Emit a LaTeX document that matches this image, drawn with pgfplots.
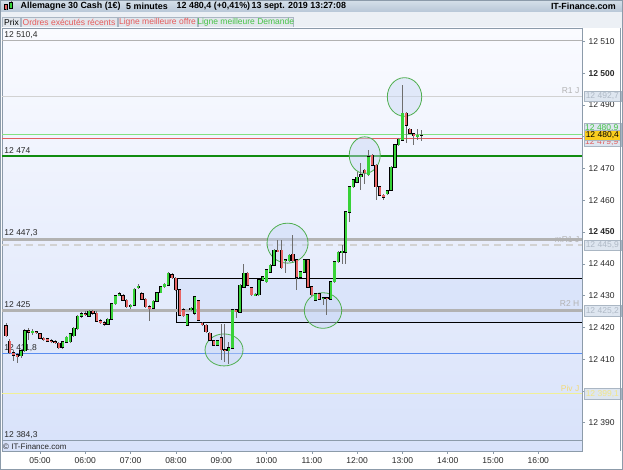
\documentclass[border=0pt]{standalone}
\usepackage{fontspec}
\setmainfont{Liberation Sans}
\usepackage{pgfplots}
\pgfplotsset{compat=1.18}
\usepackage{pgfplotstable}

\definecolor{framecol}{RGB}{140,155,170}
\definecolor{hdtop}{RGB}{214,224,234}
\definecolor{hdbot}{RGB}{184,199,215}
\definecolor{rowbg}{RGB}{236,240,245}
\definecolor{boxbg}{RGB}{226,231,237}
\definecolor{boxline}{RGB}{170,182,195}
\definecolor{bgtop}{RGB}{250,251,255}
\definecolor{bgbot}{RGB}{216,226,250}
\definecolor{zonefill}{RGB}{200,215,248}
\definecolor{upcol}{RGB}{55,210,55}
\definecolor{dncol}{RGB}{232,100,100}
\definecolor{wickcol}{RGB}{110,110,110}
\definecolor{pivgray}{RGB}{178,178,178}
\definecolor{lightline}{RGB}{210,210,210}
\definecolor{bidgreen}{RGB}{130,225,130}
\definecolor{askred}{RGB}{225,95,95}
\definecolor{darkgreen}{RGB}{16,140,16}
\definecolor{bluelevel}{RGB}{90,142,240}
\definecolor{yellowlevel}{RGB}{240,240,150}
\definecolor{ellgreen}{RGB}{80,175,80}
\definecolor{ellfill}{RGB}{200,215,245}
\definecolor{labelcol}{RGB}{40,40,40}
\definecolor{rtext}{RGB}{175,185,198}
\definecolor{rbox}{RGB}{222,230,240}
\definecolor{gold}{RGB}{250,205,30}
\definecolor{legred}{RGB}{230,90,90}
\definecolor{leggreen}{RGB}{70,195,70}

\newcommand\fs{\fontsize{8.5}{10}\selectfont}

% i = number of the 5-minute candle from 04:15
\pgfplotstableread{
i o h l c
0 12420.5 12421.5 12417.0 12417.3
1 12415.7 12416.2 12411.5 12412.0
2 12412.0 12412.8 12409.5 12411.3
3 12411.3 12412.0 12408.8 12411.0
4 12411.1 12413.0 12410.5 12412.7
5 12412.7 12419.5 12412.3 12419.0
6 12419.0 12419.8 12416.0 12418.5
7 12418.5 12419.5 12417.5 12418.8
8 12418.6 12419.0 12417.8 12418.3
9 12417.9 12418.3 12416.3 12416.6
10 12416.6 12417.0 12415.8 12416.3
11 12416.4 12416.8 12415.3 12415.7
12 12415.7 12416.2 12415.0 12415.5
13 12415.5 12416.0 12414.8 12415.2
14 12415.0 12415.5 12413.2 12413.6
15 12413.8 12415.8 12413.3 12415.5
16 12415.4 12417.2 12415.0 12416.9
17 12415.5 12418.3 12415.0 12418.0
18 12417.3 12420.0 12417.0 12419.7
19 12419.6 12423.8 12419.3 12423.5
20 12423.5 12424.8 12422.8 12424.2
21 12424.2 12425.0 12423.5 12424.0
22 12423.5 12425.5 12423.2 12425.0
23 12425.0 12425.5 12424.0 12424.5
24 12424.5 12425.0 12421.8 12422.0
25 12422.0 12422.5 12421.0 12421.5
26 12421.5 12422.0 12420.5 12421.0
27 12421.0 12422.8 12420.8 12422.5
28 12422.5 12427.7 12422.3 12427.4
29 12427.4 12430.2 12427.0 12429.9
30 12430.0 12431.0 12429.8 12430.5
31 12430.0 12430.5 12428.2 12428.5
32 12428.5 12428.8 12426.2 12426.5
33 12426.5 12427.5 12425.8 12427.0
34 12427.0 12432.5 12426.8 12432.0
35 12432.5 12433.5 12432.0 12433.0
36 12430.5 12431.0 12428.5 12428.9
37 12428.9 12429.2 12426.2 12426.5
38 12426.5 12427.0 12422.0 12426.0
39 12426.0 12428.5 12425.8 12428.2
40 12428.2 12431.2 12428.0 12430.9
41 12430.9 12433.0 12430.7 12432.8
42 12432.8 12434.0 12432.5 12433.5
43 12433.3 12437.3 12433.0 12437.0
44 12436.6 12437.0 12435.3 12435.6
45 12435.4 12435.8 12431.5 12431.8
46 12431.8 12432.2 12423.6 12423.9
47 12425.5 12426.0 12423.4 12423.7
48 12420.7 12424.2 12420.4 12423.9
49 12425.5 12426.5 12425.0 12426.0
50 12424.4 12430.0 12424.0 12429.7
51 12428.3 12428.6 12422.0 12422.3
52 12421.3 12421.6 12420.5 12420.8
53 12420.7 12421.0 12418.3 12418.6
54 12418.2 12418.5 12415.7 12416.0
55 12415.7 12416.0 12414.0 12414.3
56 12414.3 12416.0 12414.0 12415.7
57 12416.7 12421.0 12409.7 12412.9
58 12412.9 12421.2 12409.0 12412.7
59 12412.7 12415.3 12408.5 12413.5
60 12413.5 12425.8 12413.2 12425.5
61 12425.5 12425.8 12423.0 12425.0
62 12424.8 12433.6 12424.5 12433.3
63 12432.7 12440.0 12432.4 12437.0
64 12437.0 12437.3 12433.0 12433.3
65 12432.4 12432.7 12429.9 12430.2
66 12430.2 12430.8 12429.8 12430.4
67 12430.2 12435.2 12430.0 12434.9
68 12434.9 12436.3 12434.6 12436.0
69 12434.3 12438.4 12434.0 12438.1
70 12437.4 12439.9 12437.1 12439.6
71 12439.6 12444.6 12439.3 12444.3
72 12444.3 12447.5 12443.8 12444.0
73 12444.3 12447.5 12438.4 12438.7
74 12441.0 12441.5 12437.0 12441.3
75 12441.0 12443.0 12440.7 12442.7
76 12443.0 12449.0 12440.7 12441.0
77 12441.2 12441.5 12431.8 12435.8
78 12435.8 12437.8 12435.5 12437.5
79 12437.4 12441.5 12437.1 12441.2
80 12441.2 12441.5 12432.4 12432.7
81 12432.7 12433.0 12429.9 12430.2
82 12428.6 12430.8 12428.3 12430.5
83 12430.5 12430.8 12428.6 12428.9
84 12429.0 12429.5 12427.0 12429.3
85 12429.3 12429.6 12423.9 12429.0
86 12428.9 12434.6 12428.6 12434.3
87 12434.3 12440.9 12434.0 12440.6
88 12440.6 12444.0 12440.3 12443.7
89 12443.7 12446.0 12440.0 12444.0
90 12443.7 12456.6 12440.0 12456.3
91 12456.3 12464.5 12453.0 12464.2
92 12464.2 12466.7 12463.9 12466.4
93 12465.7 12469.0 12465.4 12467.3
94 12467.5 12471.7 12463.2 12468.0
95 12469.5 12469.8 12465.0 12468.6
96 12468.0 12475.8 12467.7 12473.6
97 12474.2 12474.5 12470.8 12471.1
98 12471.0 12471.3 12460.0 12464.2
99 12464.2 12464.5 12461.3 12461.6
100 12461.5 12462.0 12460.0 12461.0
101 12462.0 12463.3 12461.7 12463.0
102 12463.2 12470.7 12462.9 12470.4
103 12470.4 12477.7 12470.1 12477.4
104 12477.4 12479.5 12477.1 12479.2
105 12478.9 12496.2 12478.6 12487.4
106 12487.4 12487.7 12478.0 12483.6
107 12482.4 12482.7 12480.8 12481.1
108 12481.0 12481.3 12477.4 12480.3
109 12480.3 12482.5 12479.0 12480.4
110 12480.4 12482.0 12478.5 12480.4
}\candles

\def\xa{4.161}
\def\xb{16.964}

\begin{document}
\begin{tikzpicture}
\path[use as bounding box] (0pt,0pt) rectangle (623pt,470pt);
\fill[white] (0pt,0pt) rectangle (623pt,470pt);

% header bar
\shade[top color=hdtop, bottom color=hdbot] (0pt,458pt) rectangle (623pt,470pt);
\draw[framecol] (0pt,458pt) -- (623pt,458pt);
\fill[dncol, draw=black, line width=0.4pt] (4pt,461pt) rectangle (7.5pt,466pt);
\draw[wickcol] (5.75pt,460pt) -- (5.75pt,461pt);
\fill[upcol, draw=black, line width=0.4pt] (9pt,461.5pt) rectangle (12.5pt,468pt);
\draw[wickcol] (10.75pt,468pt) -- (10.75pt,469.5pt);
\node[anchor=west, inner sep=0pt, font=\bfseries\fontsize{8.9}{10}\selectfont] at (20.5pt,464pt) {Allemagne 30 Cash (1€)};
\node[anchor=west, inner sep=0pt, font=\bfseries\fontsize{8.9}{10}\selectfont] at (126pt,464pt) {5 minutes};
\node[anchor=west, inner sep=0pt, font=\bfseries\fontsize{8.9}{10}\selectfont] at (176.5pt,464pt) {12 480,4 (+0,41\%)};
\node[anchor=west, inner sep=0pt, font=\bfseries\fontsize{8.9}{10}\selectfont] at (251.5pt,464pt) {13 sept. 2019 13:27:08};
\node[anchor=east, inner sep=0pt, font=\bfseries\fontsize{8.9}{10}\selectfont] at (616pt,464pt) {IT-Finance.com};

% legend row
\fill[rowbg] (0pt,442pt) rectangle (623pt,458pt);
\filldraw[fill=boxbg, draw=boxline, line width=0.5pt] (2.5pt,442pt) rectangle (20.5pt,453pt);
\filldraw[fill=boxbg, draw=boxline, line width=0.5pt] (21pt,442pt) rectangle (117pt,453pt);
\filldraw[fill=boxbg, draw=boxline, line width=0.5pt] (118pt,442pt) rectangle (197pt,453pt);
\filldraw[fill=boxbg, draw=boxline, line width=0.5pt] (198.5pt,442pt) rectangle (293pt,453pt);
\node[inner sep=0pt, font=\fs] at (11.5pt,447.5pt) {Prix};
\node[inner sep=0pt, font=\fs, text=legred] at (69pt,447.5pt) {Ordres exécutés récents};
\node[inner sep=0pt, font=\fs, text=legred] at (157.5pt,447.5pt) {Ligne meilleure offre};
\node[inner sep=0pt, font=\fs, text=leggreen] at (245.75pt,447.5pt) {Ligne meilleure Demande};

\begin{axis}[
  at={(2pt,19pt)}, anchor=south west,
  scale only axis, width=580pt, height=423pt,
  xmin=\xa, xmax=\xb, ymin=12381.1, ymax=12514.2,
  scaled ticks=false,
  axis line style={draw=framecol},
  axis background/.style={shade, top color=bgtop, bottom color=bgbot},
  xtick={5,6,7,8,9,10,11,12,13,14,15,16},
  xticklabels={05:00,06:00,07:00,08:00,09:00,10:00,11:00,12:00,13:00,14:00,15:00,16:00},
  ytick={12390,12400,12410,12420,12430,12440,12450,12460,12470,12480,12490,12500,12510},
  yticklabels={12 390,{},12 410,12 420,12 430,12 440,\textbf{12 450},12 460,12 470,{},12 490,\textbf{12 500},12 510},
  xtick pos=left, ytick pos=right, yticklabel pos=right,
  tick align=outside, major tick length=3pt,
  tick style={draw=framecol, line width=0.6pt},
  tick label style={font=\fs, text=labelcol},
  yticklabel style={anchor=west, xshift=0pt},
  xticklabel style={yshift=-0.5pt},
]

% zone 08:00 onwards
\fill[zonefill, opacity=0.35] (axis cs:8,12421.6) rectangle (axis cs:\xb,12435.4);
\draw[black, line width=0.6pt] (axis cs:\xb,12435.4) -- (axis cs:8,12435.4) -- (axis cs:8,12421.6) -- (axis cs:\xb,12421.6);

% levels
\draw[pivgray, line width=0.6pt] (axis cs:\xa,12510.4) -- (axis cs:\xb,12510.4);
\draw[lightline, line width=1pt] (axis cs:\xa,12492.7) -- (axis cs:\xb,12492.7);
\draw[bidgreen, line width=1.2pt] (axis cs:\xa,12480.7) -- (axis cs:\xb,12480.7);
\draw[askred, line width=0.8pt] (axis cs:\xa,12479.6) -- (axis cs:\xb,12479.6);
\draw[darkgreen, line width=1.5pt] (axis cs:\xa,12474) -- (axis cs:\xb,12474);
\draw[pivgray, line width=3pt] (axis cs:\xa,12447.5) -- (axis cs:\xb,12447.5);
\draw[lightline, line width=1.2pt, dash pattern=on 7pt off 5pt] (axis cs:\xa,12445.9) -- (axis cs:\xb,12445.9);
\draw[pivgray, line width=3pt] (axis cs:\xa,12425.4) -- (axis cs:\xb,12425.4);
\draw[bluelevel, line width=1pt] (axis cs:\xa,12411.8) -- (axis cs:\xb,12411.8);
\draw[yellowlevel, line width=1pt] (axis cs:\xa,12399.1) -- (axis cs:\xb,12399.1);
\draw[framecol, line width=0.8pt] (axis cs:\xa,12384.3) -- (axis cs:\xb,12384.3);

% left level labels
\node[anchor=south west, inner sep=0.5pt, font=\fs, text=labelcol] at (axis cs:4.2,12510.6) {12 510,4};
\node[anchor=south west, inner sep=0.5pt, font=\fs, text=labelcol] at (axis cs:4.2,12474.6) {12 474};
\node[anchor=south west, inner sep=0.5pt, font=\fs, text=labelcol] at (axis cs:4.2,12448.2) {12 447,3};
\node[anchor=south west, inner sep=0.5pt, font=\fs, text=labelcol] at (axis cs:4.2,12426.1) {12 425};
\node[anchor=south west, inner sep=0.5pt, font=\fs, text=labelcol] at (axis cs:4.2,12412.2) {12 411,8};
\node[anchor=south west, inner sep=0.5pt, font=\fs, text=labelcol] at (axis cs:4.2,12384.7) {12 384,3};

% right level labels
\node[anchor=south east, inner sep=0.5pt, font=\fs, text=pivgray] at (axis cs:16.92,12493.2) {R1 J};
\node[anchor=south east, inner sep=0.5pt, font=\fs, text=pivgray] at (axis cs:16.92,12446.6) {mR1 J};
\node[anchor=south east, inner sep=0.5pt, font=\fs, text=pivgray] at (axis cs:16.92,12426.2) {R2 H};
\node[anchor=south east, inner sep=0.5pt, font=\fs, text=yellowlevel!80!orange] at (axis cs:16.92,12399.6) {Piv J};

% circles
\filldraw[fill=ellfill, fill opacity=0.45, draw=ellgreen, line width=0.8pt] (axis cs:9.062,12412.9) ellipse [x radius=19pt, y radius=16pt];
\filldraw[fill=ellfill, fill opacity=0.45, draw=ellgreen, line width=0.8pt] (axis cs:10.464,12446.5) ellipse [x radius=20.5pt, y radius=20pt];
\filldraw[fill=ellfill, fill opacity=0.45, draw=ellgreen, line width=0.8pt] (axis cs:11.247,12425.3) ellipse [x radius=18.7pt, y radius=17.8pt];
\filldraw[fill=ellfill, fill opacity=0.45, draw=ellgreen, line width=0.8pt] (axis cs:12.168,12474.2) ellipse [x radius=15.5pt, y radius=18.3pt];
\filldraw[fill=ellfill, fill opacity=0.45, draw=ellgreen, line width=0.8pt] (axis cs:13.046,12492.5) ellipse [x radius=17.2pt, y radius=19.3pt];

% wicks
\addplot[draw=none, mark=none, forget plot,
  error bars/.cd, y dir=both, y explicit, error mark=none,
  error bar style={line width=1pt, draw=wickcol}]
  table[x expr=4.25+\thisrow{i}/12, y expr=0.5*(\thisrow{h}+\thisrow{l}),
        y error expr=0.5*(\thisrow{h}-\thisrow{l})] {\candles};
% body outlines
\addplot[draw=none, mark=none, forget plot,
  error bars/.cd, y dir=both, y explicit, error mark=none,
  error bar style={line width=3.3pt, draw=black}]
  table[x expr=4.25+\thisrow{i}/12, y expr=0.5*(\thisrow{o}+\thisrow{c}),
        y error expr=0.5*abs(\thisrow{c}-\thisrow{o})+0.17] {\candles};
% rising bodies
\addplot[draw=none, mark=none, forget plot,
  restrict expr to domain={\thisrow{c}-\thisrow{o}}{0:1000},
  error bars/.cd, y dir=both, y explicit, error mark=none,
  error bar style={line width=2.2pt, draw=upcol}]
  table[x expr=4.25+\thisrow{i}/12, y expr=0.5*(\thisrow{o}+\thisrow{c}),
        y error expr=0.5*abs(\thisrow{c}-\thisrow{o})] {\candles};
% falling bodies
\addplot[draw=none, mark=none, forget plot,
  restrict expr to domain={\thisrow{c}-\thisrow{o}}{-1000:-0.001},
  error bars/.cd, y dir=both, y explicit, error mark=none,
  error bar style={line width=2.2pt, draw=dncol}]
  table[x expr=4.25+\thisrow{i}/12, y expr=0.5*(\thisrow{o}+\thisrow{c}),
        y error expr=0.5*abs(\thisrow{c}-\thisrow{o})] {\candles};

\coordinate (pR1) at (axis cs:\xb,12492.7);
\coordinate (pQ) at (axis cs:\xb,12480.4);
\coordinate (pmR1) at (axis cs:\xb,12445.9);
\coordinate (pR2) at (axis cs:\xb,12425.2);
\coordinate (pPiv) at (axis cs:\xb,12399.1);
\end{axis}

% watermark
\node[anchor=west, inner sep=0pt, font=\fontsize{8}{9}\selectfont, text=labelcol] at (3pt,23pt) {© IT-Finance.com};

% price boxes on the right
\tikzset{rb/.style={anchor=west, draw=boxline, fill=rbox, text=rtext, font=\fs,
  minimum width=37pt, minimum height=10.5pt, inner sep=1pt, line width=0.6pt}}
\node[rb] at ([xshift=1.5pt]pR1) {12 492,7};
\node[rb] at ([xshift=1.5pt]pmR1) {12 445,9};
\node[rb] at ([xshift=1.5pt]pR2) {12 425,2};
\node[rb, text=yellowlevel!90!orange] at ([xshift=1.5pt]pPiv) {12 399,1};
\node[rb, minimum height=23pt, text=white] at ([xshift=1.5pt,yshift=0.5pt]pQ) {};
\node[anchor=west, inner sep=1pt, font=\fs, text=leggreen] at ([xshift=2pt,yshift=7.5pt]pQ) {12 480,9};
\node[anchor=west, inner sep=1pt, font=\fs, text=askred] at ([xshift=2pt,yshift=-7pt]pQ) {12 479,9};
\node[anchor=west, draw=boxline, fill=gold, font=\fs, text=black, minimum width=37pt,
  minimum height=10pt, inner sep=1pt, line width=0.6pt] at ([xshift=1.5pt]pQ) {12 480,4};

% outer frame
\draw[framecol, line width=0.8pt] (0.4pt,0.4pt) rectangle (622.6pt,469.6pt);
\draw[framecol, line width=0.6pt] (620.5pt,19pt) -- (620.5pt,442pt);
\end{tikzpicture}
\end{document}
